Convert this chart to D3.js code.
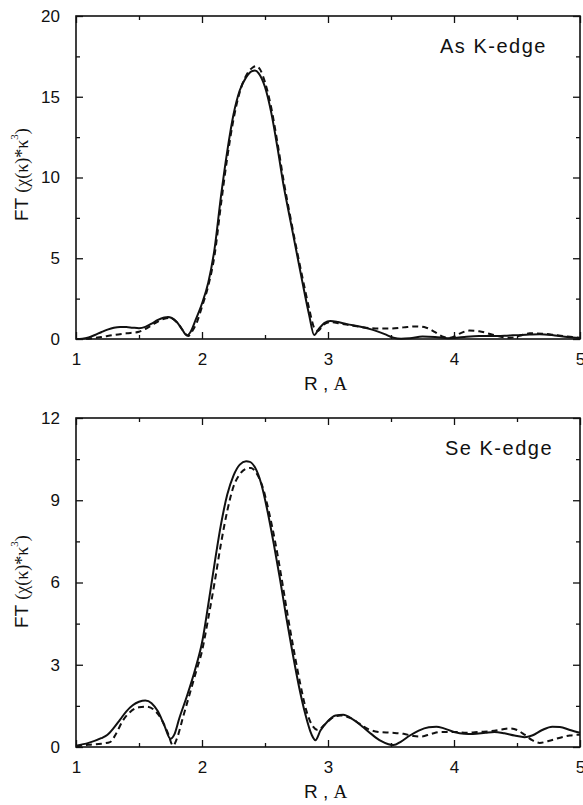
<!DOCTYPE html>
<html><head><meta charset="utf-8">
<script src="https://cdn.jsdelivr.net/npm/d3@7"></script>
<style>
html,body{margin:0;padding:0;background:#fff;}
svg{display:block;}
</style></head>
<body>
<script>
// ---------- DATA ----------
const xTickValues = [1, 2, 3, 4, 5];
const xMinorValues = [1.5, 2.5, 3.5, 4.5];

const asTitle = "As K-edge";
const asYTicks = [0, 5, 10, 15, 20];
const asYMinor = [2.5, 7.5, 12.5, 17.5];
const asSolidR = [1.00,1.05,1.10,1.15,1.20,1.25,1.30,1.35,1.40,1.45,1.50,1.55,1.60,1.65,1.70,1.73,1.76,1.80,1.84,1.88,1.91,1.95,2.00,2.05,2.10,2.15,2.20,2.25,2.30,2.35,2.40,2.42,2.45,2.50,2.55,2.60,2.65,2.70,2.75,2.80,2.85,2.89,2.93,2.97,3.02,3.08,3.15,3.25,3.35,3.45,3.52,3.58,3.65,3.75,3.85,3.95,4.00,4.10,4.20,4.30,4.40,4.50,4.60,4.68,4.80,4.90,5.00];
const asSolidV = [0.00,0.02,0.10,0.25,0.42,0.58,0.70,0.75,0.74,0.70,0.67,0.75,0.95,1.18,1.33,1.37,1.30,1.05,0.62,0.22,0.45,1.20,2.20,3.50,5.60,8.80,11.60,13.90,15.40,16.20,16.60,16.62,16.45,15.60,14.00,11.80,9.40,7.40,5.40,3.40,1.50,0.25,0.65,0.98,1.12,1.05,0.92,0.78,0.58,0.30,0.08,0.02,0.05,0.15,0.12,0.05,0.06,0.14,0.18,0.18,0.20,0.24,0.28,0.30,0.22,0.12,0.05];
const asDashR = [1.00,1.05,1.10,1.20,1.30,1.40,1.50,1.55,1.60,1.65,1.70,1.74,1.78,1.82,1.86,1.89,1.92,1.96,2.00,2.05,2.10,2.15,2.20,2.25,2.30,2.35,2.40,2.43,2.46,2.50,2.55,2.60,2.65,2.70,2.75,2.80,2.85,2.89,2.92,2.96,3.02,3.10,3.20,3.30,3.40,3.50,3.60,3.70,3.78,3.85,3.92,3.97,4.05,4.12,4.20,4.30,4.40,4.45,4.52,4.60,4.70,4.80,4.90,5.00];
const asDashV = [0.00,0.00,0.02,0.12,0.25,0.35,0.45,0.62,0.85,1.08,1.25,1.30,1.18,0.85,0.40,0.18,0.45,1.05,2.00,3.30,5.20,8.30,11.20,13.60,15.30,16.30,16.80,16.90,16.70,15.90,14.30,12.10,9.70,7.60,5.60,3.70,1.90,0.70,0.50,0.85,1.05,0.95,0.82,0.70,0.65,0.65,0.72,0.78,0.70,0.42,0.12,0.08,0.35,0.52,0.48,0.28,0.10,0.08,0.20,0.35,0.33,0.25,0.15,0.08];

const seTitle = "Se K-edge";
const seYTicks = [0, 3, 6, 9, 12];
const seYMinor = [1.5, 4.5, 7.5, 10.5];
const seSolidR = [1.00,1.10,1.20,1.25,1.30,1.35,1.40,1.45,1.50,1.55,1.60,1.65,1.70,1.75,1.78,1.82,1.88,1.95,2.00,2.05,2.10,2.15,2.20,2.25,2.30,2.35,2.38,2.42,2.47,2.52,2.57,2.62,2.67,2.72,2.77,2.82,2.87,2.90,2.94,3.00,3.06,3.12,3.20,3.28,3.35,3.42,3.48,3.52,3.58,3.65,3.72,3.80,3.86,3.92,4.00,4.08,4.15,4.25,4.32,4.40,4.48,4.56,4.62,4.70,4.78,4.84,4.92,5.00];
const seSolidV = [0.05,0.15,0.32,0.45,0.70,1.00,1.30,1.52,1.65,1.70,1.60,1.30,0.80,0.30,0.45,1.05,1.85,2.90,3.80,5.20,6.70,8.10,9.20,9.90,10.30,10.42,10.40,10.20,9.60,8.60,7.40,6.10,4.70,3.40,2.20,1.20,0.45,0.25,0.60,0.95,1.15,1.18,1.00,0.72,0.45,0.22,0.10,0.07,0.20,0.42,0.60,0.72,0.74,0.68,0.55,0.48,0.47,0.52,0.55,0.50,0.42,0.36,0.42,0.62,0.74,0.73,0.62,0.52];
const seDashR = [1.00,1.10,1.20,1.27,1.32,1.37,1.43,1.50,1.56,1.62,1.68,1.73,1.77,1.80,1.85,1.90,1.95,2.00,2.05,2.10,2.15,2.20,2.25,2.30,2.35,2.39,2.43,2.48,2.53,2.58,2.63,2.68,2.73,2.78,2.83,2.88,2.92,2.97,3.03,3.10,3.18,3.25,3.32,3.40,3.50,3.60,3.68,3.74,3.82,3.90,4.00,4.10,4.20,4.30,4.38,4.44,4.50,4.56,4.62,4.68,4.75,4.85,4.92,5.00];
const seDashV = [0.02,0.08,0.12,0.18,0.50,0.95,1.28,1.45,1.47,1.35,1.00,0.50,0.05,0.30,1.10,1.90,2.70,3.50,4.70,6.00,7.40,8.60,9.50,9.95,10.15,10.18,10.00,9.50,8.60,7.50,6.20,4.80,3.50,2.30,1.30,0.75,0.62,0.80,1.05,1.15,1.05,0.85,0.65,0.55,0.52,0.48,0.40,0.38,0.48,0.55,0.55,0.52,0.55,0.58,0.64,0.68,0.62,0.45,0.25,0.15,0.22,0.35,0.42,0.45];

// ---------- DRAW ----------
const W = 583, H = 805;
const svg = d3.select("body").append("svg").attr("width", W).attr("height", H);
const SANS = "'Liberation Sans', Arial, sans-serif";
const SERIF = "'Liberation Serif', 'Times New Roman', serif";

function panel(cfg) {
  const x = d3.scaleLinear().domain([1, 5]).range([76, 580]);
  const y = d3.scaleLinear().domain([cfg.yTicks[0], cfg.yTicks[cfg.yTicks.length - 1]]).range([cfg.bottom, cfg.top]);
  const g = svg.append("g");

  // frame
  g.append("rect").attr("x", 76).attr("y", cfg.top).attr("width", 504).attr("height", cfg.bottom - cfg.top)
    .attr("fill", "none").attr("stroke", "#111").attr("stroke-width", 1.6);

  function styleAxis(sel) {
    sel.select(".domain").remove();
    sel.selectAll("line").attr("stroke", "#111").attr("stroke-width", 1.3);
    sel.selectAll("text").attr("fill", "#111").style("font-family", SANS).style("font-size", "17px");
  }
  // bottom major
  g.append("g").attr("transform", `translate(0,${cfg.bottom})`)
    .call(d3.axisBottom(x).tickValues(xTickValues).tickSizeInner(-7).tickSizeOuter(0).tickPadding(14).tickFormat(d3.format("d")))
    .call(styleAxis);
  g.append("g").attr("transform", `translate(0,${cfg.bottom})`)
    .call(d3.axisBottom(x).tickValues(xMinorValues).tickSizeInner(-4).tickSizeOuter(0).tickFormat(""))
    .call(styleAxis);
  // top
  g.append("g").attr("transform", `translate(0,${cfg.top})`)
    .call(d3.axisTop(x).tickValues(xTickValues).tickSizeInner(-7).tickSizeOuter(0).tickFormat(""))
    .call(styleAxis);
  g.append("g").attr("transform", `translate(0,${cfg.top})`)
    .call(d3.axisTop(x).tickValues(xMinorValues).tickSizeInner(-4).tickSizeOuter(0).tickFormat(""))
    .call(styleAxis);
  // left
  g.append("g").attr("transform", `translate(76,0)`)
    .call(d3.axisLeft(y).tickValues(cfg.yTicks).tickSizeInner(-7).tickSizeOuter(0).tickPadding(16).tickFormat(d3.format("d")))
    .call(styleAxis);
  g.append("g").attr("transform", `translate(76,0)`)
    .call(d3.axisLeft(y).tickValues(cfg.yMinor).tickSizeInner(-4).tickSizeOuter(0).tickFormat(""))
    .call(styleAxis);
  // right
  g.append("g").attr("transform", `translate(580,0)`)
    .call(d3.axisRight(y).tickValues(cfg.yTicks).tickSizeInner(-7).tickSizeOuter(0).tickFormat(""))
    .call(styleAxis);
  g.append("g").attr("transform", `translate(580,0)`)
    .call(d3.axisRight(y).tickValues(cfg.yMinor).tickSizeInner(-4).tickSizeOuter(0).tickFormat(""))
    .call(styleAxis);

  const line = d3.line().x(d => x(d[0])).y(d => y(d[1])).curve(d3.curveMonotoneX);
  const dashed = cfg.dashR.map((r, i) => [r, cfg.dashV[i]]);
  const solid = cfg.solidR.map((r, i) => [r, cfg.solidV[i]]);
  g.append("path").attr("d", line(dashed)).attr("fill", "none").attr("stroke", "#111")
    .attr("stroke-width", 2).attr("stroke-dasharray", "6,4");
  g.append("path").attr("d", line(solid)).attr("fill", "none").attr("stroke", "#111")
    .attr("stroke-width", 2);

  // panel title
  g.append("text").attr("x", cfg.titleX).attr("y", cfg.titleY).text(cfg.title)
    .style("font-family", SANS).style("font-size", "20px").style("letter-spacing", "1.5px").attr("fill", "#111");

  // x label
  const xl = g.append("text").attr("x", 304).attr("y", cfg.bottom + 51).attr("fill", "#111");
  xl.append("tspan").style("font-family", SANS).style("font-size", "19px").text("R");
  xl.append("tspan").style("font-family", SANS).style("font-size", "19px").text(" , ");
  xl.append("tspan").style("font-family", SERIF).style("font-size", "19px").text("A");

  // y label
  const yl = g.append("text").attr("transform", `translate(28,${cfg.ylabStart}) rotate(-90)`).attr("fill", "#111");
  yl.append("tspan").style("font-family", SANS).style("font-size", "19px").text("FT ");
  yl.append("tspan").style("font-family", SERIF).style("font-size", "18px").text("(\u03C7(\u03BA)*\u03BA");
  yl.append("tspan").style("font-family", SERIF).style("font-size", "11px").attr("dy", -10).text("3");
  yl.append("tspan").style("font-family", SERIF).style("font-size", "18px").attr("dy", 10).text(")");
}

panel({top: 16, bottom: 339, yTicks: asYTicks, yMinor: asYMinor,
  solidR: asSolidR, solidV: asSolidV, dashR: asDashR, dashV: asDashV,
  title: asTitle, titleX: 440, titleY: 53, ylabStart: 221});
panel({top: 418, bottom: 747, yTicks: seYTicks, yMinor: seYMinor,
  solidR: seSolidR, solidV: seSolidV, dashR: seDashR, dashV: seDashV,
  title: seTitle, titleX: 445, titleY: 455, ylabStart: 628});
</script>
</body></html>
